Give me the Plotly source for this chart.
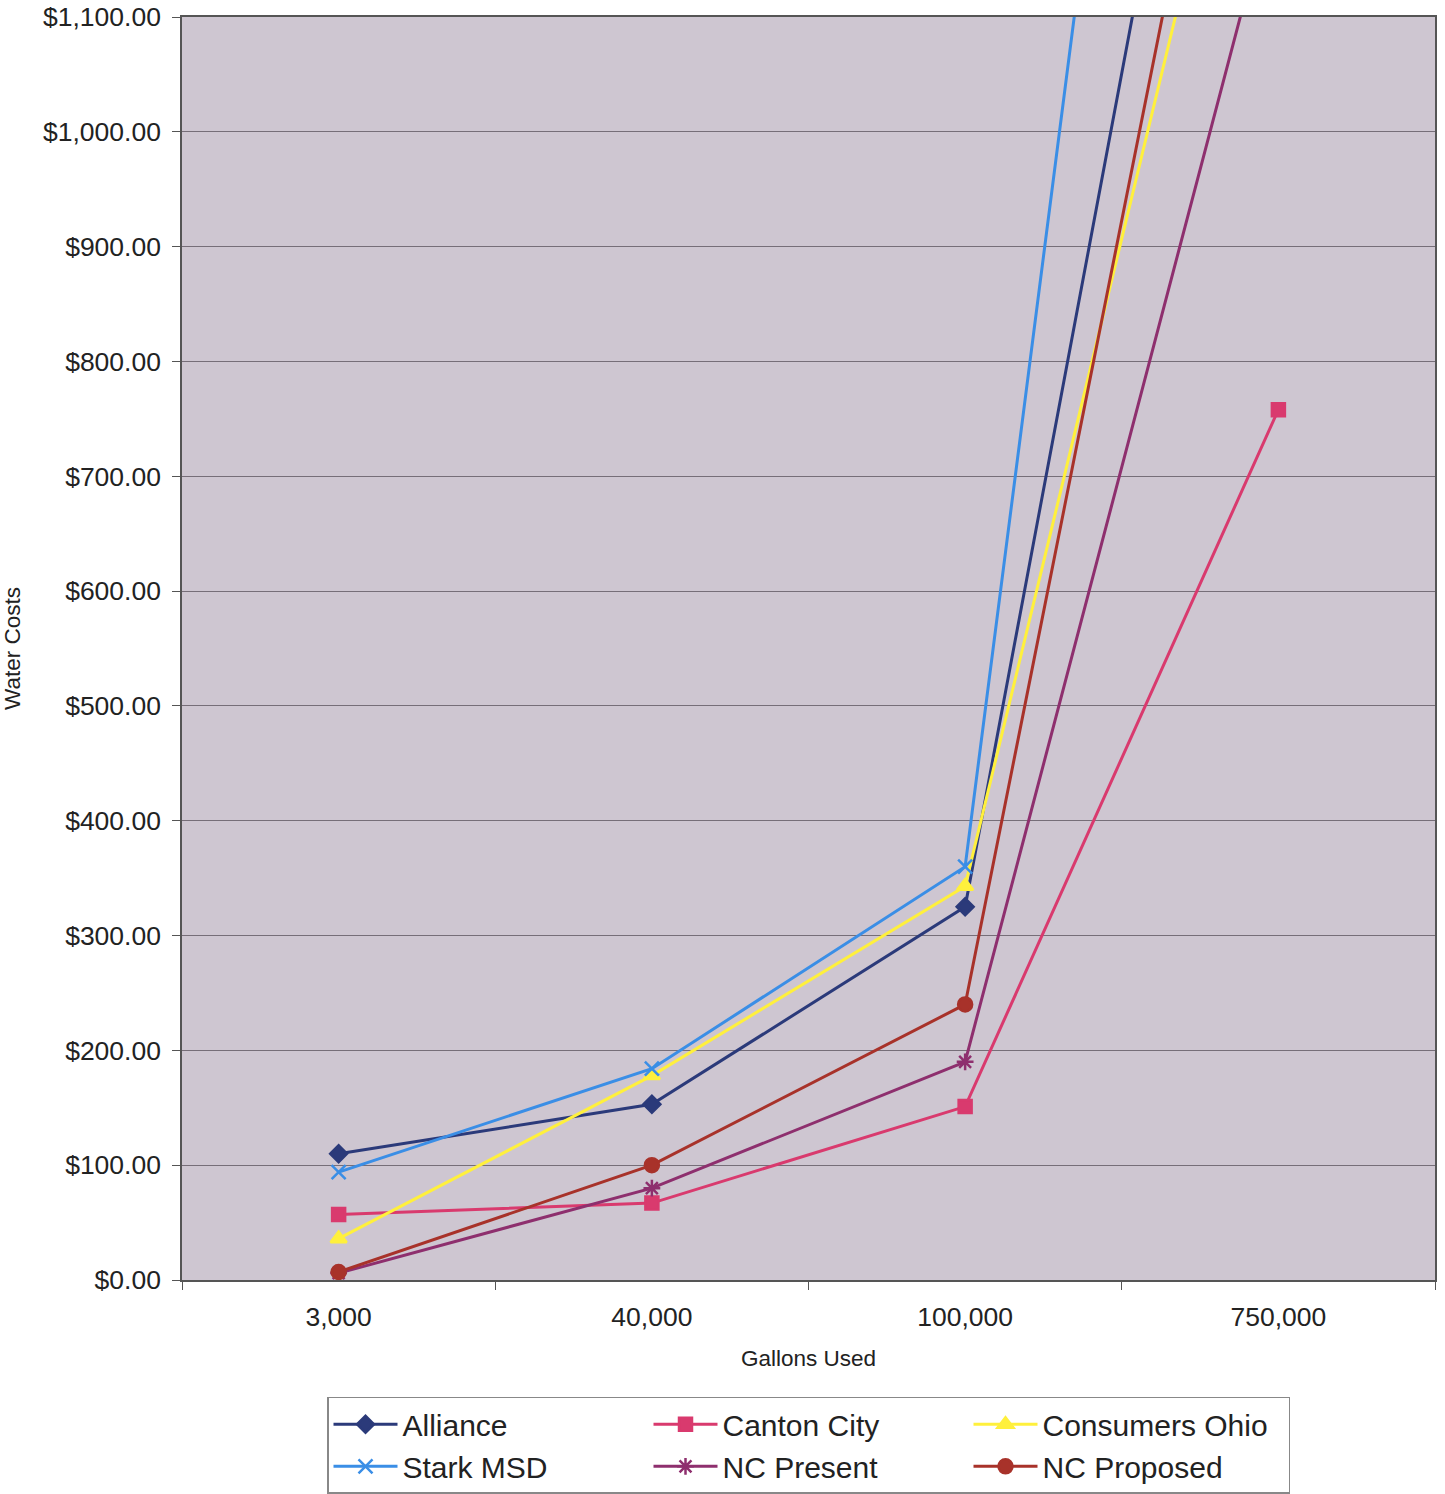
import plotly.graph_objects as go

categories = ["3,000", "40,000", "100,000", "750,000"]
alliance = [110, 153, 325, 1777]
canton_city = [57, 67, 151, 758]
consumers_ohio = [36, 178, 343, 1471]
stark_msd = [94, 184, 360, 2485]
nc_present = [6, 80, 190, 1226]
nc_proposed = [7, 100, 240, 1606]
y_ticks = [0, 100, 200, 300, 400, 500, 600, 700, 800, 900, 1000, 1100]

series = [
    ("Alliance", alliance, "#2B3A7A", "diamond", 13),
    ("Canton City", canton_city, "#D93A6E", "square", 13),
    ("Consumers Ohio", consumers_ohio, "#FFF03C", "triangle-up", 14),
    ("Stark MSD", stark_msd, "#3A8EE6", "x-thin-open", 14),
    ("NC Present", nc_present, "#8E2F6E", "asterisk-open", 14),
    ("NC Proposed", nc_proposed, "#A8322A", "circle", 14),
]

fig = go.Figure()
for name, vals, color, sym, size in series:
    fig.add_trace(go.Scatter(
        x=categories, y=vals, name=name, mode="lines+markers",
        line=dict(color=color, width=3),
        marker=dict(symbol=sym, size=size, color=color,
                    line=dict(color=color, width=2.5)),
    ))

font = "Arial, Liberation Sans, sans-serif"
fig.update_layout(
    width=1445, height=1494,
    margin=dict(l=182, r=10, t=17, b=214, autoexpand=False),
    paper_bgcolor="white",
    plot_bgcolor="#CEC6D1",
    font=dict(family=font, color="#222222"),
    showlegend=True,
    legend=dict(
        orientation="h", x=0.5, xanchor="center", y=-0.0925, yanchor="top",
        bgcolor="white", bordercolor="#888888", borderwidth=1.5,
        font=dict(size=30, color="#222222", family=font),
        entrywidth=241, entrywidthmode="pixels", itemwidth=64,
        tracegroupgap=0,
    ),
    xaxis=dict(
        type="category", range=[-0.5, 3.5],
        tickson="boundaries", ticks="outside", ticklen=8, tickcolor="#555555",
        showgrid=False, showline=True, linecolor="#555555", linewidth=1.5,
        tickfont=dict(size=26.5, family=font), ticklabelstandoff=12,
        title=dict(text="Gallons Used", font=dict(size=22.5, family=font), standoff=20),
        mirror=True, automargin=False,
    ),
    yaxis=dict(
        range=[0, 1100], tickvals=y_ticks, tickformat="$,.2f",
        ticks="outside", ticklen=8, tickcolor="#555555",
        showgrid=True, gridcolor="#766E78", gridwidth=1,
        showline=True, linecolor="#555555", linewidth=1.5, mirror=True,
        zeroline=False, automargin=False,
        tickfont=dict(size=26.5, family=font), ticklabelstandoff=6,
        title=dict(text="Water Costs", font=dict(size=22.5, family=font), standoff=16),
    ),
)

fig.write_html("out.html")
